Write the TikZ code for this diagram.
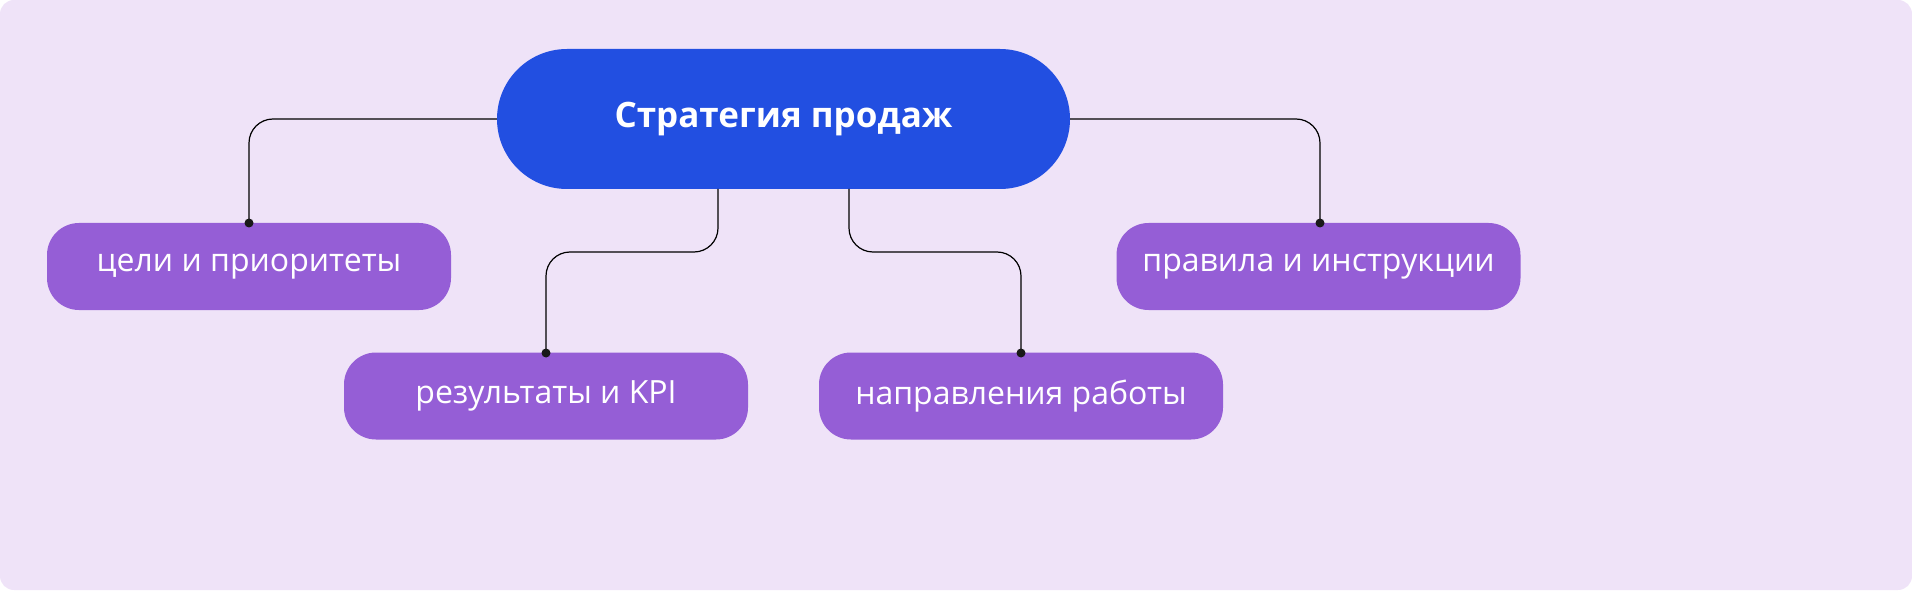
\documentclass[tikz,border=0pt]{standalone}
\usepackage{fontspec}
\setmainfont{Open Sans}
\definecolor{bgc}{HTML}{EFE3F8}
\definecolor{mainc}{HTML}{224FE1}
\definecolor{subc}{HTML}{955ED6}
\tikzset{
 mainbox/.style={fill=mainc,text=white,rounded corners=70pt,minimum width=573pt,minimum height=140pt,font=\fontsize{35}{40}\selectfont\bfseries,inner sep=0pt},
 subbox/.style={fill=subc,text=white,rounded corners=32pt,minimum width=404pt,minimum height=87pt,font=\fontsize{32}{36}\selectfont,inner sep=0pt},
 link/.style={draw=black,line width=1.2pt,rounded corners=24pt},
 dot/.style={fill=black!90,circle,inner sep=0pt,minimum size=9pt}
}
\begin{document}
\begin{tikzpicture}[x=1pt,y=-1pt]
\useasboundingbox (0,0) rectangle (1912,596);
\fill[bgc,rounded corners=14pt] (0,0) rectangle (1912,590);
\node[mainbox] (m) at (783.5,119) {Стратегия продаж};
\node[subbox] (a) at (249,266.5) {цели и приоритеты};
\node[subbox] (b) at (546,396) {результаты и KPI};
\node[subbox] (c) at (1021,396) {направления работы};
\node[subbox] (d) at (1318.5,266.5) {правила и инструкции};
\coordinate (ta) at (249,223);
\coordinate (tb) at (546,353);
\coordinate (tc) at (1021,353);
\coordinate (td) at (1320,223);
\coordinate (mb1) at (718,189);
\coordinate (mb2) at (849,189);
\draw[link] (m.west) -| (ta);
\draw[link] (m.east) -| (td);
\draw[link] (mb1) |- (632,252) -| (tb);
\draw[link] (mb2) |- (935,252) -| (tc);
\foreach \p in {ta,tb,tc,td} \node[dot] at (\p) {};
\end{tikzpicture}
\end{document}
